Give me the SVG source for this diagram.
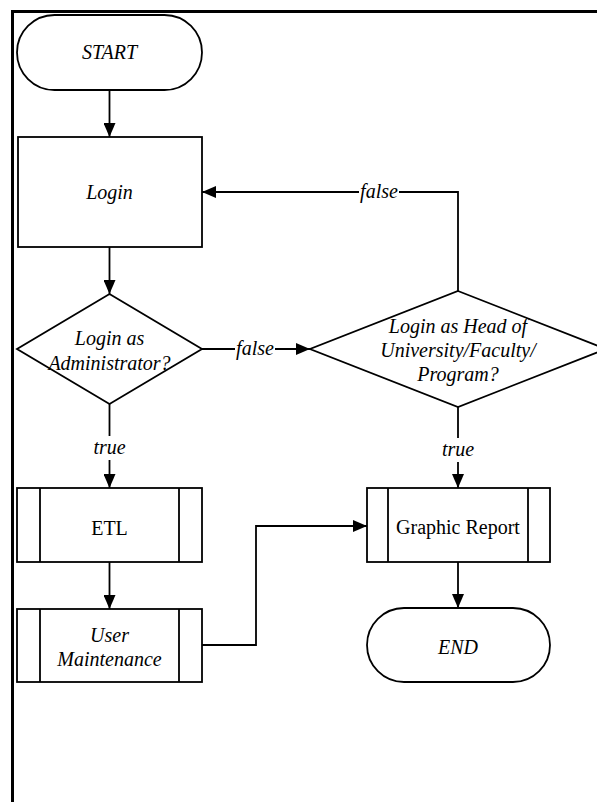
<svg xmlns="http://www.w3.org/2000/svg" width="597" height="802" viewBox="0 0 597 802">
<style>
.s{fill:#fff;stroke:#000;stroke-width:1.8}
.ln{fill:none;stroke:#000;stroke-width:1.8}
text{font-family:'Liberation Serif',serif;font-size:20px;fill:#000;text-anchor:middle}
.i{font-style:italic}
.bg{fill:#fff;stroke:none}
</style>
<defs>
<marker id="ah" markerUnits="userSpaceOnUse" markerWidth="14" markerHeight="12" refX="14" refY="6" orient="auto">
<path d="M0,0 L14,6 L0,12 z" fill="#000"/>
</marker>
</defs>
<rect width="597" height="802" fill="#fff"/>
<path d="M12.5,802 V11.5 H597" fill="none" stroke="#000" stroke-width="3"/>

<g id="connectors" font-family="Liberation Serif, serif">
<path class="ln" d="M109.5,90 V137" marker-end="url(#ah)"/>
<path class="ln" d="M109.5,247 V294" marker-end="url(#ah)"/>
<path class="ln" d="M202,349 H310" marker-end="url(#ah)"/>
<path class="ln" d="M109.5,404 V488" marker-end="url(#ah)"/>
<path class="ln" d="M458,291 V192 H202" marker-end="url(#ah)"/>
<path class="ln" d="M458,407 V488" marker-end="url(#ah)"/>
<path class="ln" d="M109.5,562 V609" marker-end="url(#ah)"/>
<path class="ln" d="M202,645 H256 V526 H367" marker-end="url(#ah)"/>
<path class="ln" d="M458,562 V608" marker-end="url(#ah)"/>
<rect class="bg" x="235" y="338" width="40" height="22"/>
<text class="i" x="255" y="355">false</text>
<rect class="bg" x="359" y="181" width="40" height="22"/>
<text class="i" x="379" y="198">false</text>
<rect class="bg" x="92" y="436" width="35" height="24"/>
<text class="i" x="109.5" y="454">true</text>
<rect class="bg" x="441" y="438" width="35" height="24"/>
<text class="i" x="458" y="456">true</text>
</g>

<g id="start">
<rect class="s" x="17" y="15" width="185" height="75" rx="37.5" ry="37.5"/>
<text class="i" x="109.5" y="59">START</text>
</g>

<g id="login">
<rect class="s" x="18" y="137" width="184" height="110"/>
<text class="i" x="109.5" y="199">Login</text>
</g>

<g id="decision-admin">
<polygon class="s" points="109.5,294 202,349 109.5,404 17,349"/>
<text class="i" x="109.5" y="345">Login as</text>
<text class="i" x="109.5" y="370">Administrator?</text>
</g>

<g id="decision-head">
<polygon class="s" points="458,291 606,349 458,407 310,349"/>
<text class="i" x="458" y="333">Login as Head of</text>
<text class="i" x="458" y="357">University/Faculty/</text>
<text class="i" x="458" y="381">Program?</text>
</g>

<g id="etl">
<rect class="s" x="17" y="488" width="185" height="74"/>
<path class="ln" d="M40,488 V562 M179,488 V562"/>
<text x="109.5" y="535">ETL</text>
</g>

<g id="user-maintenance">
<rect class="s" x="17" y="609" width="185" height="73"/>
<path class="ln" d="M40,609 V682 M179,609 V682"/>
<text class="i" x="109.5" y="642">User</text>
<text class="i" x="109.5" y="666">Maintenance</text>
</g>

<g id="graphic-report">
<rect class="s" x="367" y="488" width="183" height="74"/>
<path class="ln" d="M388,488 V562 M528,488 V562"/>
<text x="458" y="534">Graphic Report</text>
</g>

<g id="end">
<rect class="s" x="367" y="608" width="183" height="74" rx="37" ry="37"/>
<text class="i" x="458" y="654">END</text>
</g>
</svg>
